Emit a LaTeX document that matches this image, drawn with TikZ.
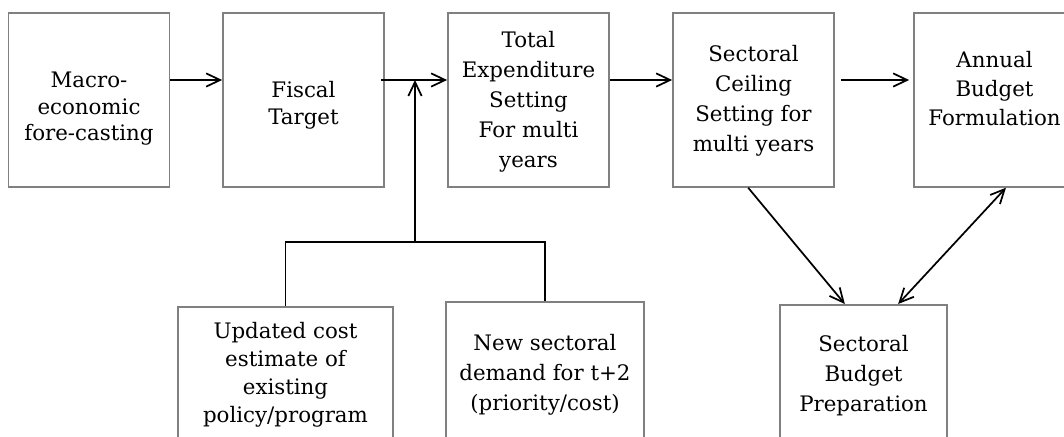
\documentclass[tikz,border=0pt]{standalone}
\usepackage{fontspec}
\setmainfont{DejaVu Serif}
\usepackage{tikz}
\usetikzlibrary{arrows.meta, positioning}
\definecolor{boxgray}{HTML}{808080}

\begin{document}
\begin{tikzpicture}[
    x=0.75pt, y=-0.75pt,
    box/.style={rectangle, draw=boxgray, fill=white, line width=1.3pt, anchor=north, inner ysep=0pt, minimum width=120.75pt, align=center, font=\fontsize{16}{22.5}\selectfont},
    link/.style={-{Straight Barb[length=10.5pt, width=10pt]}, line width=1.3pt},
    both/.style={{Straight Barb[length=10.5pt, width=10pt]}-{Straight Barb[length=10.5pt, width=10pt]}, line width=1.3pt},
  ]
  \useasboundingbox (0,0) rectangle (1064,436);
  \clip (0,0) rectangle (1064,436);

  % Top row
  \node[box, text height=96pt, text depth=34.5pt, font=\fontsize{16}{20}\selectfont] (macro) at (89,12) {Macro-\\economic\\fore-casting};
  \node[box, text height=84pt, text depth=46.5pt, font=\fontsize{16}{20.25}\selectfont] (fiscal) at (303.5,12) {Fiscal\\Target};
  \node[box, text height=116pt, text depth=14.5pt] (total) at (528.5,12) {Total\\Expenditure\\Setting\\For multi\\years};
  \node[box, text height=104.25pt, text depth=26.25pt] (ceiling) at (753.5,12) {Sectoral\\Ceiling\\Setting for\\multi years};
  \node[box, text height=84.75pt, text depth=45.75pt, font=\fontsize{16}{21.75}\selectfont] (annual) at (994.5,12) {Annual\\Budget\\Formulation};

  % Bottom row
  \node[box, minimum width=161.25pt, text height=86.8pt, text depth=25.7pt, font=\fontsize{16}{21}\selectfont] (upd) at (285.5,306) {Updated cost\\estimate of\\existing\\policy/program};
  \node[box, minimum width=148.5pt, text height=81.75pt, text depth=34.5pt] (newdem) at (545,301) {New sectoral\\demand for t+2\\(priority/cost)};
  \node[box, minimum width=125.25pt, text height=80.25pt, text depth=33.75pt] (sbp) at (863.5,304) {Sectoral\\Budget\\Preparation};

  \coordinate (merge) at (415,80);
  \coordinate (join) at (415,242);

  % Main flow
  \draw[link] (macro.east |- merge) -- (fiscal.west |- merge);
  \draw[link, shorten <=-3pt] (fiscal.east |- merge) -- (total.west |- merge);
  \draw[link] (total.east |- merge) -- (ceiling.west |- merge);
  \draw[link, shorten <=4.5pt, shorten >=3pt] (ceiling.east |- merge) -- (annual.west |- merge);

  % Inputs from below
  \draw[line width=1.3pt] (upd.north) |- (join) -| (newdem.north);
  \draw[link] (join) -- (merge);

  % Sectoral budget
  \draw[link] ([xshift=-4pt]ceiling.south) -- ([xshift=-14pt]sbp.north);
  \draw[both] ([xshift=26pt]sbp.north) -- ([xshift=8.6pt]annual.south);
\end{tikzpicture}
\end{document}
